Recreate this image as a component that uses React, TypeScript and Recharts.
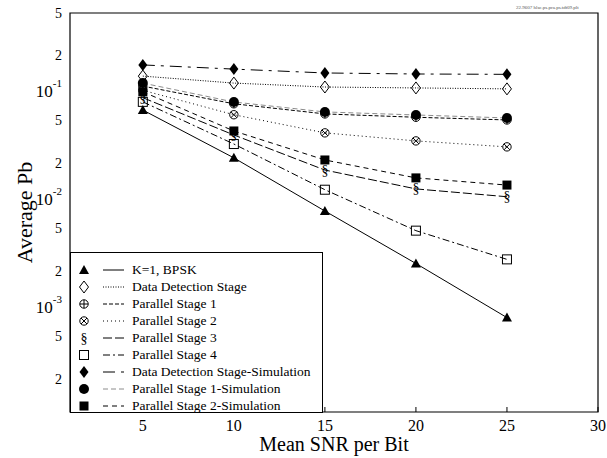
import React from 'react';
import { LineChart, Line, XAxis, YAxis, ReferenceArea } from 'recharts';

// Mean SNR per bit (dB) at which each curve is evaluated
const snrDb = [5, 10, 15, 20, 25];

// Average bit error probability per curve
const bpsk = [0.063, 0.0227, 0.0073, 0.00238, 0.00075];
const dataDetection = [0.13, 0.112, 0.103, 0.101, 0.099];
const parallel1 = [0.105, 0.072, 0.058, 0.054, 0.051];
const parallel2 = [0.096, 0.057, 0.0387, 0.0326, 0.0287];
const parallel3 = [0.082, 0.037, 0.0175, 0.0117, 0.0099];
const parallel4 = [0.075, 0.0305, 0.0115, 0.0048, 0.0026];
const dataDetectionSim = [0.165, 0.151, 0.139, 0.136, 0.135];
const parallel1Sim = [0.112, 0.0748, 0.0605, 0.0567, 0.0532];
const parallel2Sim = [0.093, 0.0403, 0.0217, 0.0148, 0.0127];

const xTicks = [5, 10, 15, 20, 25, 30];
const xMinorTicks = [2.5, 7.5, 12.5, 17.5, 22.5, 27.5];
const yTicks = [0.5, 0.2, 0.1, 0.05, 0.02, 0.01, 0.005, 0.002, 0.001, 0.0005, 0.0002];

const W = 607;
const H = 458;
const PLOT_TOP = 13;
const PLOT_LEFT = 70;
const PLOT_RIGHT = 598;
const PLOT_BOTTOM = 412;
const FONT = '"Liberation Serif", "Times New Roman", serif';

type Shape =
  | 'triangle'
  | 'diamondOpen'
  | 'circlePlus'
  | 'circleX'
  | 'section'
  | 'squareOpen'
  | 'diamond'
  | 'circle'
  | 'square';

interface Series {
  key: string;
  name: string;
  values: number[];
  shape: Shape;
  dash?: string;
  color: string;
}

const series: Series[] = [
  { key: 'bpsk', name: 'K=1, BPSK', values: bpsk, shape: 'triangle', color: '#000' },
  { key: 'dd', name: 'Data Detection Stage', values: dataDetection, shape: 'diamondOpen', dash: '1 1.5', color: '#000' },
  { key: 'p1', name: 'Parallel Stage 1', values: parallel1, shape: 'circlePlus', dash: '4 2', color: '#000' },
  { key: 'p2', name: 'Parallel Stage 2', values: parallel2, shape: 'circleX', dash: '1 3', color: '#000' },
  { key: 'p3', name: 'Parallel Stage 3', values: parallel3, shape: 'section', dash: '9 3', color: '#000' },
  { key: 'p4', name: 'Parallel Stage 4', values: parallel4, shape: 'squareOpen', dash: '7 3 2 3', color: '#000' },
  { key: 'ddSim', name: 'Data Detection Stage-Simulation', values: dataDetectionSim, shape: 'diamond', dash: '12 6 3 6', color: '#000' },
  { key: 'p1Sim', name: 'Parallel Stage 1-Simulation', values: parallel1Sim, shape: 'circle', dash: '5 3', color: '#8c8c8c' },
  { key: 'p2Sim', name: 'Parallel Stage 2-Simulation', values: parallel2Sim, shape: 'square', dash: '5 4', color: '#000' },
];

const rows = snrDb.map((snr, i) => {
  const row: Record<string, number> = { snr };
  series.forEach((s) => {
    row[s.key] = s.values[i];
  });
  return row;
});

function Marker({ shape, cx, cy }: { shape: Shape; cx: number; cy: number }) {
  const k = '#000';
  switch (shape) {
    case 'triangle':
      return <polygon points={`${cx},${cy - 5} ${cx - 5},${cy + 4} ${cx + 5},${cy + 4}`} fill={k} />;
    case 'diamondOpen':
      return (
        <polygon
          points={`${cx},${cy - 6} ${cx + 4.5},${cy} ${cx},${cy + 6} ${cx - 4.5},${cy}`}
          fill="none"
          stroke={k}
          strokeWidth={1}
        />
      );
    case 'diamond':
      return <polygon points={`${cx},${cy - 6} ${cx + 4.5},${cy} ${cx},${cy + 6} ${cx - 4.5},${cy}`} fill={k} />;
    case 'circlePlus':
      return (
        <g stroke={k} strokeWidth={1} fill="none">
          <circle cx={cx} cy={cy} r={4.2} />
          <line x1={cx - 4.2} y1={cy} x2={cx + 4.2} y2={cy} />
          <line x1={cx} y1={cy - 4.2} x2={cx} y2={cy + 4.2} />
        </g>
      );
    case 'circleX':
      return (
        <g stroke={k} strokeWidth={1} fill="none">
          <circle cx={cx} cy={cy} r={4.2} />
          <line x1={cx - 3} y1={cy - 3} x2={cx + 3} y2={cy + 3} />
          <line x1={cx - 3} y1={cy + 3} x2={cx + 3} y2={cy - 3} />
        </g>
      );
    case 'section':
      return (
        <text x={cx} y={cy} textAnchor="middle" dominantBaseline="central" fontFamily={FONT} fontSize={14} fill={k}>
          §
        </text>
      );
    case 'squareOpen':
      return <rect x={cx - 4.5} y={cy - 4.5} width={9} height={9} fill="none" stroke={k} strokeWidth={1} />;
    case 'circle':
      return <circle cx={cx} cy={cy} r={5} fill={k} />;
    case 'square':
      return <rect x={cx - 4.5} y={cy - 4.5} width={9} height={9} fill={k} />;
    default:
      return null;
  }
}

const dotFor = (shape: Shape) => (props: any) => (
  <g key={`${shape}-${props.index}`}>
    <Marker shape={shape} cx={props.cx} cy={props.cy} />
  </g>
);

function YTick(props: any) {
  const v: number = props.payload.value;
  const y: number = props.y;
  const exp = Math.round(Math.log10(v));
  const isDecade = Math.abs(v / Math.pow(10, exp) - 1) < 1e-6;
  if (isDecade) {
    return (
      <text x={62} y={y + 3} textAnchor="end" dominantBaseline="central" fontFamily={FONT} fontSize={17} fill="#000">
        <tspan>10</tspan>
        <tspan dy={-8} fontSize={11}>{`${exp}`}</tspan>
      </text>
    );
  }
  const mant = Math.round(v / Math.pow(10, Math.floor(Math.log10(v))));
  return (
    <text x={62} y={y} textAnchor="end" dominantBaseline="central" fontFamily={FONT} fontSize={14} fill="#000">
      {mant}
    </text>
  );
}

function XTick(props: any) {
  const x: number = props.x;
  return (
    <g>
      <line x1={x} y1={PLOT_BOTTOM} x2={x} y2={PLOT_BOTTOM - 5} stroke="#000" strokeWidth={1} />
      <text x={x} y={PLOT_BOTTOM + 13} textAnchor="middle" dominantBaseline="central" fontFamily={FONT} fontSize={16} fill="#000">
        {props.payload.value}
      </text>
    </g>
  );
}

function TopTick(props: any) {
  const x: number = props.x;
  return <line x1={x} y1={PLOT_TOP} x2={x} y2={PLOT_TOP + 4} stroke="#000" strokeWidth={1} />;
}

function LegendBox() {
  const boxTop = 252;
  return (
    <div
      style={{
        position: 'absolute',
        left: PLOT_LEFT,
        top: boxTop,
        width: 253,
        height: PLOT_BOTTOM - boxTop + 1,
        boxSizing: 'border-box',
        border: '1px solid #000',
        background: '#fff',
        fontFamily: FONT,
        fontSize: 13.5,
        color: '#000',
      }}
    >
      {series.map((s, i) => {
        const cy = 17 + i * 17;
        return (
          <div key={s.key} style={{ position: 'absolute', left: 0, top: cy - 9, height: 18, width: 250 }}>
            <svg width={60} height={18} style={{ position: 'absolute', left: 0, top: 0 }}>
              <Marker shape={s.shape} cx={13} cy={9} />
              <line x1={32} y1={9} x2={53} y2={9} stroke={s.color} strokeWidth={1} strokeDasharray={s.dash} />
            </svg>
            <span style={{ position: 'absolute', left: 61, top: 0, lineHeight: '18px', whiteSpace: 'nowrap' }}>
              {s.name}
            </span>
          </div>
        );
      })}
    </div>
  );
}

export default function App() {
  return (
    <div style={{ position: 'fixed', left: 0, top: 0, width: W, height: H, background: '#fff' }}>
      <LineChart
        width={W}
        height={H}
        data={rows}
        margin={{ top: PLOT_TOP, right: W - PLOT_RIGHT, bottom: 0, left: 0 }}
      >
        <XAxis
          dataKey="snr"
          type="number"
          domain={[1, 30]}
          ticks={xTicks}
          height={H - PLOT_BOTTOM}
          axisLine={false}
          tickLine={false}
          tick={<XTick />}
          interval={0}
          label={{
            content: () => (
              <text x={(PLOT_LEFT + PLOT_RIGHT) / 2} y={451} textAnchor="middle" fontFamily={FONT} fontSize={20} fill="#000">
                Mean SNR per Bit
              </text>
            ),
          }}
        />
        <XAxis
          xAxisId="top"
          dataKey="snr"
          type="number"
          orientation="top"
          domain={[1, 30]}
          ticks={[...xTicks, ...xMinorTicks].sort((a, b) => a - b)}
          height={0}
          axisLine={false}
          tickLine={false}
          tick={<TopTick />}
          interval={0}
        />
        <YAxis
          type="number"
          scale="log"
          domain={[0.0001, 0.5]}
          ticks={yTicks}
          allowDataOverflow
          width={PLOT_LEFT}
          axisLine={false}
          tickLine={false}
          tick={<YTick />}
          interval={0}
          label={{
            content: () => (
              <text
                x={0}
                y={0}
                transform={`translate(24, ${(PLOT_TOP + PLOT_BOTTOM) / 2}) rotate(-90)`}
                textAnchor="middle"
                dominantBaseline="central"
                fontFamily={FONT}
                fontSize={22}
                fill="#000"
              >
                Average Pb
              </text>
            ),
          }}
        />
        <ReferenceArea x1={1} x2={30} y1={0.0001} y2={0.5} fill="none" stroke="#000" strokeWidth={1.2} ifOverflow="visible" />
        {series.map((s) => (
          <Line
            key={s.key}
            dataKey={s.key}
            name={s.name}
            type="linear"
            stroke={s.color}
            strokeWidth={1}
            strokeDasharray={s.dash}
            dot={dotFor(s.shape)}
            activeDot={false}
            isAnimationActive={false}
          />
        ))}
      </LineChart>
      <LegendBox />
      <div
        style={{
          position: 'absolute',
          left: 516,
          top: 5,
          fontFamily: FONT,
          fontSize: 5,
          color: '#555',
          whiteSpace: 'nowrap',
        }}
      >
        22.9607 hlsc.ps.pra.ps.tdt09.plt
      </div>
    </div>
  );
}
